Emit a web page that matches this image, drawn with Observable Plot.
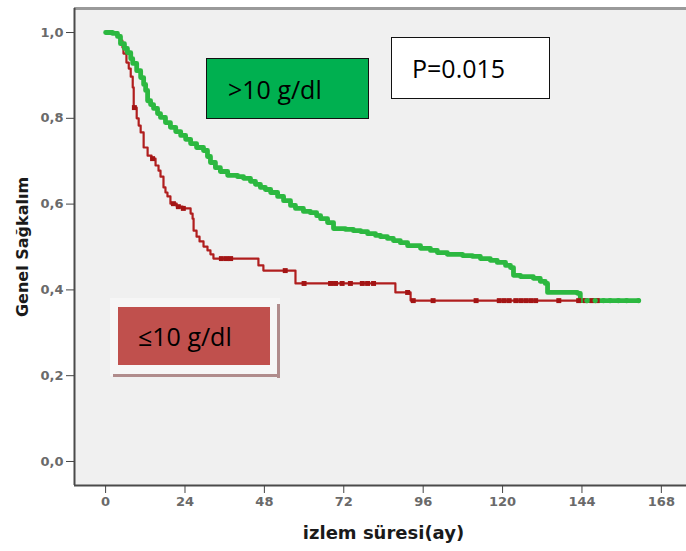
<!DOCTYPE html>
<html>
<head>
<meta charset="utf-8">
<script src="https://cdn.jsdelivr.net/npm/d3@7"></script>
<script src="https://cdn.jsdelivr.net/npm/@observablehq/plot@0.6"></script>
<style>
  html, body { margin: 0; padding: 0; background: #fff; }
  #wrap { position: relative; width: 686px; height: 551px; overflow: hidden; }
  .box { position: absolute; box-sizing: border-box; font-family: "Open Sans", sans-serif; font-size: 25px; color: #000; display: flex; align-items: center; }
</style>
</head>
<body>
<div id="wrap"></div>
<script>
// ---- data ----
const xTicks = [0, 24, 48, 72, 96, 120, 144, 168];
const yTicks = [0, 0.2, 0.4, 0.6, 0.8, 1.0];

// ≤10 g/dl  (months, survival)
const redT = [0, 3.6, 4.5, 5.1, 5.4, 6.3, 7.0, 7.6, 8.2, 8.5, 9.4, 10.0, 10.6, 11.5, 12.7, 13.9, 15.1, 16.0, 16.6, 17.5, 18.1, 18.7, 19.6, 21.5, 23.3, 25.7, 26.3, 26.6, 27.5, 28.4, 29.6, 30.8, 31.7, 32.6, 46.2, 47.7, 57.4, 87.6, 92.2, 149.0];
const redS = [1.0, 0.993, 0.981, 0.965, 0.951, 0.930, 0.916, 0.897, 0.872, 0.825, 0.800, 0.783, 0.767, 0.732, 0.713, 0.706, 0.690, 0.678, 0.664, 0.639, 0.627, 0.618, 0.601, 0.594, 0.590, 0.578, 0.566, 0.538, 0.524, 0.513, 0.501, 0.492, 0.483, 0.473, 0.457, 0.445, 0.415, 0.394, 0.375, 0.375];
const redCensorT = [8.7, 14.2, 20.5, 22.0, 23.5, 35.0, 36.5, 37.8, 54.3, 60.0, 68.0, 69.5, 71.5, 74.0, 77.6, 79.2, 81.0, 91.3, 93.0, 99.0, 112.0, 119.0, 120.5, 122.0, 124.0, 125.5, 127.0, 128.5, 130.0, 137.0, 143.0, 145.0, 147.0, 148.6];

// >10 g/dl
const greenT = [0, 2.1, 3.6, 4.5, 5.7, 6.6, 7.6, 8.2, 9.4, 10.6, 11.5, 12.1, 12.7, 13.6, 14.5, 15.7, 16.6, 18.1, 19.6, 21.2, 22.7, 24.2, 25.7, 27.5, 29.6, 30.8, 31.7, 33.2, 34.7, 36.9, 39.9, 41.7, 43.8, 45.3, 46.8, 48.3, 49.9, 52.0, 53.8, 55.9, 57.4, 59.8, 61.9, 63.8, 65.0, 67.1, 68.9, 72.5, 74.9, 77.1, 79.2, 81.6, 83.1, 85.2, 87.0, 89.1, 91.3, 95.2, 98.2, 100.3, 103.3, 107.9, 110.9, 113.3, 116.3, 118.4, 120.9, 122.4, 123.3, 125.4, 129.3, 131.4, 132.9, 133.6, 142.6, 143.5, 161.1];
const greenS = [1.0, 0.998, 0.991, 0.974, 0.963, 0.953, 0.939, 0.928, 0.911, 0.895, 0.879, 0.865, 0.841, 0.832, 0.823, 0.811, 0.802, 0.790, 0.779, 0.769, 0.760, 0.751, 0.741, 0.732, 0.725, 0.711, 0.697, 0.685, 0.676, 0.667, 0.664, 0.660, 0.653, 0.646, 0.639, 0.634, 0.627, 0.618, 0.608, 0.597, 0.590, 0.583, 0.580, 0.573, 0.566, 0.557, 0.543, 0.541, 0.538, 0.536, 0.531, 0.527, 0.524, 0.520, 0.515, 0.510, 0.503, 0.497, 0.492, 0.487, 0.483, 0.480, 0.478, 0.473, 0.469, 0.464, 0.457, 0.452, 0.434, 0.431, 0.427, 0.420, 0.415, 0.394, 0.392, 0.375, 0.375];
const greenCensorT = [145.5, 148.0, 150.5, 152.5, 155.0, 157.5, 161.1];

const yLabel = "Genel Sağkalım";
const xLabel = "izlem süresi(ay)";
const pText = "P=0.015";
const hiText = ">10 g/dl";
const loText = "≤10 g/dl";

// ---- build ----
const toRows = (T, S) => T.map((t, i) => ({t, s: S[i]}));
const stepAt = (T, S) => t => { let v = S[0]; for (let i = 0; i < T.length; i++) { if (T[i] <= t) v = S[i]; } return v; };
const redRows = toRows(redT, redS);
const greenRows = toRows(greenT, greenS);
const redAt = stepAt(redT, redS), greenAt = stepAt(greenT, greenS);
const redCens = redCensorT.map(t => ({t, s: redAt(t)}));
const greenCens = greenCensorT.map(t => ({t, s: greenAt(t)}));

const xDomain = [-9.4, 175.6];
const yDomain = [-0.056, 1.056];

const chart = Plot.plot({
  width: 686,
  height: 551,
  marginLeft: 74,
  marginRight: 0,
  marginTop: 8,
  marginBottom: 66,
  style: {fontFamily: "DejaVu Sans", fontSize: "13px", fontWeight: "bold", background: "white", color: "#555"},
  x: {domain: xDomain, axis: null},
  y: {domain: yDomain, axis: null},
  marks: [
    Plot.frame({fill: "#f0f0f0", stroke: "none"}),
    Plot.ruleY([yDomain[1]], {stroke: "#9a9a9a", strokeWidth: 3}),
    Plot.ruleX([xDomain[0]], {stroke: "#4a4a4a", strokeWidth: 2}),
    Plot.ruleY([yDomain[0]], {stroke: "#4a4a4a", strokeWidth: 2}),
    Plot.axisX(xTicks, {tickSize: 8, tickPadding: 3, stroke: "#444", fill: "#6a6a6a", label: null}),
    Plot.axisY(yTicks, {tickSize: 8, tickPadding: 3, stroke: "#444", fill: "#6a6a6a", label: null, tickFormat: d => d.toFixed(1).replace(".", ",")}),
    Plot.line(redRows, {x: "t", y: "s", curve: "step-after", stroke: "#b01e1e", strokeWidth: 2.2}),
    Plot.line(greenRows, {x: "t", y: "s", curve: "step-after", stroke: "#2cb840", strokeWidth: 4.8, strokeLinejoin: "round", strokeLinecap: "round"}),
    Plot.dot(redCens, {x: "t", y: "s", symbol: "square", r: 2.8, fill: "#a31414"}),
    Plot.dot(greenCens, {x: "t", y: "s", r: 2.6, fill: "#2cb840"}),
    Plot.text([yLabel], {frameAnchor: "left", dx: -52, rotate: -90, fontSize: 16, fontWeight: "bold", fill: "#1a1a1a", textAnchor: "middle", lineAnchor: "middle"}),
    Plot.text([xLabel], {frameAnchor: "bottom", dx: 3, dy: 48, fontSize: 18, fontWeight: "bold", fill: "#1a1a1a", textAnchor: "middle", lineAnchor: "middle"})
  ]
});

const wrap = document.getElementById("wrap");
wrap.appendChild(chart);

function addBox(css, text) {
  const d = document.createElement("div");
  d.className = "box";
  Object.assign(d.style, css);
  if (text != null) d.textContent = text;
  wrap.appendChild(d);
  return d;
}
// legend / annotation boxes
addBox({left: "206px", top: "58px", width: "163px", height: "61px", background: "#00b050", border: "1.5px solid #111", paddingLeft: "21px"}, hiText);
addBox({left: "391px", top: "37px", width: "159px", height: "62px", background: "#fff", border: "1.5px solid #111", paddingLeft: "20px"}, pText);
addBox({left: "110px", top: "298px", width: "170px", height: "78px", background: "#f6f6f6"});
addBox({left: "277px", top: "304px", width: "3px", height: "74px", background: "#b08c8c"});
addBox({left: "113px", top: "374px", width: "167px", height: "3px", background: "#b08c8c"});
addBox({left: "118px", top: "307px", width: "152px", height: "58px", background: "#c0504d", paddingLeft: "20px"}, loText);
</script>
</body>
</html>
